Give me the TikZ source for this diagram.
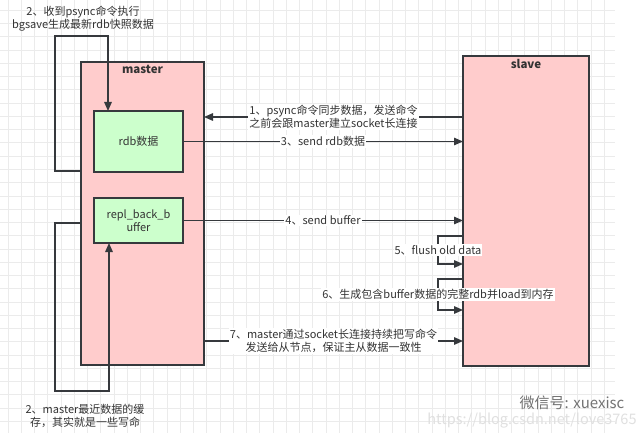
\documentclass[tikz,border=0pt]{standalone}
\usepackage{fontspec}
\setmainfont{Noto Sans CJK SC}
\usetikzlibrary{arrows.meta}

\definecolor{rolefill}{HTML}{FFCCCC}
\definecolor{storefill}{HTML}{CCFFCC}
\definecolor{edgec}{HTML}{36393D}
\definecolor{txtc}{HTML}{333333}
\definecolor{gridc}{HTML}{EBEBEB}

\tikzset{
  role/.style={draw=edgec, fill=rolefill, line width=1.3pt, inner sep=0pt, outer sep=0pt},
  store/.style={draw=edgec, fill=storefill, line width=1.3pt, inner sep=0pt, outer sep=0pt, align=center},
  title/.style={font=\fontsize{11.5}{13}\selectfont\bfseries},
  arr/.style={draw=edgec, line width=1.35pt, -{Triangle[length=9pt,width=7.5pt]}},
  lbl/.style={fill=white, inner sep=1pt, align=center},
}

\begin{document}
\begin{tikzpicture}[x=1pt, y=-1pt, font=\fontsize{11}{13}\selectfont, text=txtc]
  \useasboundingbox (0,0) rectangle (640,433);
  \fill[white] (0,0) rectangle (640,433);
  % background grid
  \foreach \k in {0,...,45}
    \draw[gridc, line width=0.6pt] (8+13.25*\k,0) -- (8+13.25*\k,433);
  \foreach \k in {0,...,31}
    \draw[gridc, line width=0.6pt] (0,10.3+13.25*\k) -- (615,10.3+13.25*\k);

  \node[role, minimum width=123, minimum height=303] (master) at (142.5,213.5) {};
  \node[title] (mtitle) at (142.5,69) {master};
  \node[role, minimum width=126, minimum height=310] (slave) at (526,211) {};
  \node[title] (stitle) at (526,64) {slave};

  \node[store, minimum width=89, minimum height=61] (rdb) at (138.5,141.5) {rdb数据};
  \node[store, minimum width=89, minimum height=45] (repl) at (138.5,220.5) {repl\_back\_b\\uffer};

  \draw[arr] (slave.west |- 0,117) -- node[lbl] {1、psync命令同步数据，发送命令\\之前会跟master建立socket长连接} (master.east |- 0,117); % slave-master
  \draw[arr] (rdb.east) -- node[lbl] {3、send rdb数据} (rdb.east -| slave.west); % rdb-slave
  \draw[arr] (repl.east) -- node[lbl] {4、send buffer} (repl.east -| slave.west); % repl-slave
  \draw[arr] (slave.west |- 0,236) -- ++(-25,0) |- node[lbl, pos=0.25] {5、flush old data} (slave.west |- 0,264); % slave-slave
  \draw[arr] (slave.west |- 0,279) -- ++(-25,0) |- node[lbl, pos=0.25] {6、生成包含buffer数据的完整rdb并load到内存} (slave.west |- 0,310); % slave-slave
  \draw[arr] (master.east |- 0,341) -- node[lbl] {7、master通过socket长连接持续把写命令\\发送给从节点，保证主从数据一致性} (slave.west |- 0,341); % master-slave

  \draw[arr] (master.west |- 0,171) -- ++(-26,0) |- (108,36) -- (rdb.north -| 108,0); % master-rdb
  \node[align=center] (bgsave) at (83,19) {2、收到psync命令执行\\bgsave生成最新rdb快照数据};
  \draw[arr] (master.west |- 0,223) -- ++(-26,0) |- (109,391) -- (repl.south -| 109,0); % master-repl
  \node[align=center] (buffer) at (85,416) {2、master最近数据的缓\\存，其实就是一些写命};

  \node[text=black!55, font=\fontsize{15}{17}\selectfont] (wechat) at (572,403) {微信号: xuexisc};
  \node[text=black!12, font=\fontsize{14.5}{16}\selectfont] (url) at (532,421) {https://blog.csdn.net/love3765};
\end{tikzpicture}
\end{document}
